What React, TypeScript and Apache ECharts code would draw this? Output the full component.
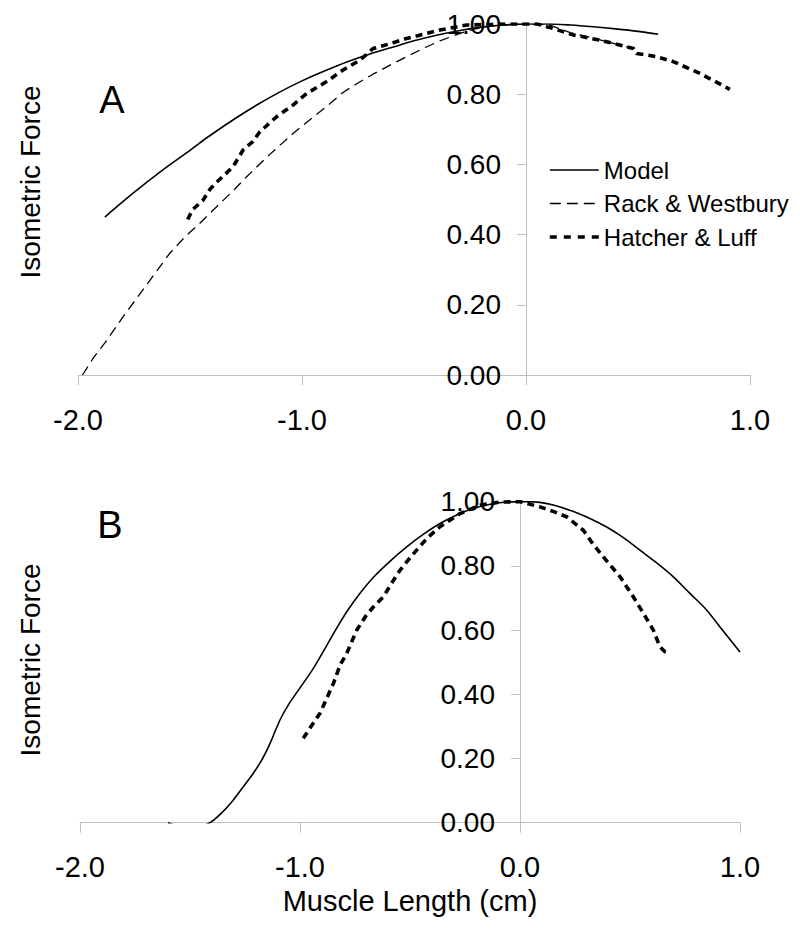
import React, { useEffect, useRef } from "react";
import * as echarts from "echarts";

// ---------- data ----------
const xTicks = [-2, -1, 0, 1];
const yTicks = [0, 0.2, 0.4, 0.6, 0.8, 1.0];
const seriesNames = ["Model", "Rack & Westbury", "Hatcher & Luff"];

// Panel A
const modelA: number[][] = [
  [-1.88, 0.45], [-1.75, 0.52], [-1.63, 0.58], [-1.5, 0.64], [-1.42, 0.678],
  [-1.3, 0.73], [-1.2, 0.77], [-1.1, 0.806], [-1.0, 0.838], [-0.9, 0.866],
  [-0.8, 0.892], [-0.7, 0.914], [-0.6, 0.933], [-0.5, 0.952], [-0.4, 0.968],
  [-0.3, 0.981], [-0.2, 0.991], [-0.1, 0.997], [0.0, 1.0], [0.1, 1.0],
  [0.2, 0.997], [0.3, 0.992], [0.4, 0.986], [0.5, 0.979], [0.59, 0.971],
];
const rackA: number[][] = [
  [-1.98, 0.0], [-1.93, 0.05], [-1.87, 0.1], [-1.8, 0.165], [-1.72, 0.234],
  [-1.65, 0.295], [-1.59, 0.347], [-1.52, 0.395], [-1.455, 0.433], [-1.38, 0.48],
  [-1.3, 0.53], [-1.247, 0.565], [-1.15, 0.625], [-1.04, 0.688], [-0.95, 0.735],
  [-0.89, 0.765], [-0.817, 0.805], [-0.75, 0.832], [-0.683, 0.857], [-0.6, 0.885],
  [-0.533, 0.907], [-0.45, 0.933], [-0.384, 0.952], [-0.3, 0.972], [-0.236, 0.985],
  [-0.15, 0.995], [-0.05, 1.0], [0.1, 0.998], [0.2, 0.975], [0.33, 0.955],
  [0.45, 0.935], [0.48, 0.93],
];
const hatcherA: number[][] = [
  [-1.51, 0.443], [-1.49, 0.47], [-1.442, 0.498], [-1.41, 0.53], [-1.38, 0.55],
  [-1.308, 0.593], [-1.263, 0.641], [-1.22, 0.665], [-1.188, 0.693], [-1.113, 0.736],
  [-1.04, 0.769], [-0.979, 0.802], [-0.89, 0.836], [-0.817, 0.869], [-0.741, 0.897],
  [-0.683, 0.93], [-0.6, 0.945], [-0.533, 0.959], [-0.45, 0.972], [-0.384, 0.983],
  [-0.265, 0.997], [-0.1, 1.0], [0.05, 1.0], [0.122, 0.987], [0.21, 0.969],
  [0.33, 0.954], [0.45, 0.935], [0.48, 0.93], [0.494, 0.916], [0.583, 0.907],
  [0.657, 0.893], [0.777, 0.859], [0.91, 0.814],
];

// Panel B
const modelB: number[][] = [
  [-1.6, 0.0], [-1.5, -0.02], [-1.41, 0.0], [-1.35, 0.035], [-1.303, 0.071],
  [-1.26, 0.11], [-1.212, 0.154], [-1.17, 0.2], [-1.136, 0.247], [-1.091, 0.32],
  [-1.05, 0.37], [-1.0, 0.42], [-0.94, 0.48], [-0.88, 0.55], [-0.83, 0.61],
  [-0.78, 0.665], [-0.727, 0.715], [-0.667, 0.764], [-0.59, 0.815], [-0.515, 0.859],
  [-0.44, 0.898], [-0.364, 0.932], [-0.29, 0.958], [-0.213, 0.979], [-0.13, 0.993],
  [-0.06, 0.999], [0.03, 1.0], [0.09, 0.998], [0.16, 0.988], [0.24, 0.97],
  [0.32, 0.947], [0.394, 0.921], [0.47, 0.888], [0.545, 0.849], [0.62, 0.81],
  [0.697, 0.766], [0.77, 0.716], [0.849, 0.662], [0.92, 0.6], [1.0, 0.532],
];
const hatcherB: number[][] = [
  [-0.985, 0.263], [-0.95, 0.3], [-0.909, 0.341], [-0.848, 0.434], [-0.818, 0.491],
  [-0.788, 0.527], [-0.742, 0.6], [-0.7, 0.645], [-0.667, 0.672], [-0.621, 0.704],
  [-0.58, 0.75], [-0.545, 0.787], [-0.5, 0.825], [-0.47, 0.849], [-0.424, 0.885],
  [-0.364, 0.922], [-0.273, 0.963], [-0.182, 0.989], [-0.09, 0.999], [0.0, 1.0],
  [0.09, 0.984], [0.15, 0.97], [0.212, 0.953], [0.288, 0.911], [0.33, 0.87],
  [0.379, 0.828], [0.455, 0.766], [0.515, 0.704], [0.561, 0.652], [0.606, 0.6],
  [0.636, 0.548], [0.66, 0.532], [0.682, 0.529],
];

const FONT = "'Liberation Sans', Arial, Helvetica, sans-serif";
const GRAY = "#bfbfbf";

function makeXAxis(gridIndex: number) {
  return {
    type: "value",
    gridIndex,
    min: -2,
    max: 1,
    interval: 1,
    axisLine: { show: true, onZero: false, lineStyle: { color: GRAY, width: 1 } },
    axisTick: { show: true, inside: false, length: 10, lineStyle: { color: GRAY } },
    splitLine: { show: false },
    axisLabel: {
      color: "#000",
      fontSize: 29,
      fontFamily: FONT,
      margin: 30,
      formatter: (v: number) => (xTicks.includes(v) ? v.toFixed(1) : ""),
    },
  };
}
function makeYAxis(gridIndex: number, offset: number) {
  return {
    type: "value",
    gridIndex,
    position: "left",
    offset,
    min: 0,
    max: 1,
    interval: 0.2,
    axisLine: { show: true, onZero: false, lineStyle: { color: GRAY, width: 1 } },
    axisTick: { show: true, inside: false, length: 9, lineStyle: { color: GRAY } },
    splitLine: { show: false },
    axisLabel: {
      color: "#000",
      fontSize: 28,
      fontFamily: FONT,
      margin: 25,
      formatter: (v: number) => (yTicks.some((t) => Math.abs(t - v) < 1e-9) ? v.toFixed(2) : ""),
    },
  };
}

const solid = { color: "#000", width: 1.6, type: "solid" };
const thinDash = { color: "#000", width: 1.3, type: [10, 6] };
const thickDash = { color: "#000", width: 3.6, type: [7, 5] };
const legendStyles = [solid, { ...thinDash, type: [11, 6] }, { ...thickDash, type: [7, 7] }];

function line(name: string, data: number[][], idx: number, style: any, smooth: number | boolean = false) {
  return {
    type: "line",
    name,
    data,
    xAxisIndex: idx,
    yAxisIndex: idx,
    symbol: "none",
    smooth,
    clip: true,
    lineStyle: style,
    itemStyle: { color: "#000" },
  };
}

export default function App() {
  const ref = useRef<HTMLDivElement>(null);
  useEffect(() => {
    if (!ref.current) return;
    const chart = echarts.init(ref.current, null, { renderer: "svg" });
    chart.setOption({
      animation: false,
      backgroundColor: "#fff",
      textStyle: { fontFamily: FONT },
      grid: [
        { left: 78, width: 672, top: 24, height: 351 },
        { left: 80, width: 660, top: 501.7, height: 321 },
      ],
      xAxis: [makeXAxis(0), makeXAxis(1)],
      yAxis: [makeYAxis(0, -448), makeYAxis(1, -440)],
      legend: {
        orient: "vertical",
        left: 548,
        top: 158,
        padding: 0,
        itemWidth: 49,
        itemHeight: 14,
        itemGap: 9.5,
        data: seriesNames.map((name, i) => ({ name, lineStyle: legendStyles[i] })),
        itemStyle: { opacity: 0 },
        textStyle: { color: "#000", fontSize: 24, fontFamily: FONT },
      },
      series: [
        line(seriesNames[0], modelA, 0, solid, 0.3),
        line(seriesNames[1], rackA, 0, thinDash),
        line(seriesNames[2], hatcherA, 0, thickDash),
        line(seriesNames[0], modelB, 1, solid, 0.3),
        line(seriesNames[2], hatcherB, 1, thickDash),
      ],
      graphic: [
        {
          type: "text",
          x: 30,
          y: 182,
          rotation: Math.PI / 2,
          style: { text: "Isometric Force", font: `28px ${FONT}`, fill: "#000", textAlign: "center", textVerticalAlign: "middle" },
        },
        {
          type: "text",
          x: 30,
          y: 660,
          rotation: Math.PI / 2,
          style: { text: "Isometric Force", font: `28px ${FONT}`, fill: "#000", textAlign: "center", textVerticalAlign: "middle" },
        },
        {
          type: "text",
          x: 112,
          y: 100,
          style: { text: "A", font: `38px ${FONT}`, fill: "#000", textAlign: "center", textVerticalAlign: "middle" },
        },
        {
          type: "text",
          x: 110,
          y: 525,
          style: { text: "B", font: `38px ${FONT}`, fill: "#000", textAlign: "center", textVerticalAlign: "middle" },
        },
        {
          type: "text",
          x: 410,
          y: 901,
          style: { text: "Muscle Length (cm)", font: `29px ${FONT}`, fill: "#000", textAlign: "center", textVerticalAlign: "middle" },
        },
      ],
    });
    return () => chart.dispose();
  }, []);
  return (
    <div
      ref={ref}
      style={{ position: "fixed", left: 0, top: 0, width: 800, height: 932, background: "#fff" }}
    />
  );
}
